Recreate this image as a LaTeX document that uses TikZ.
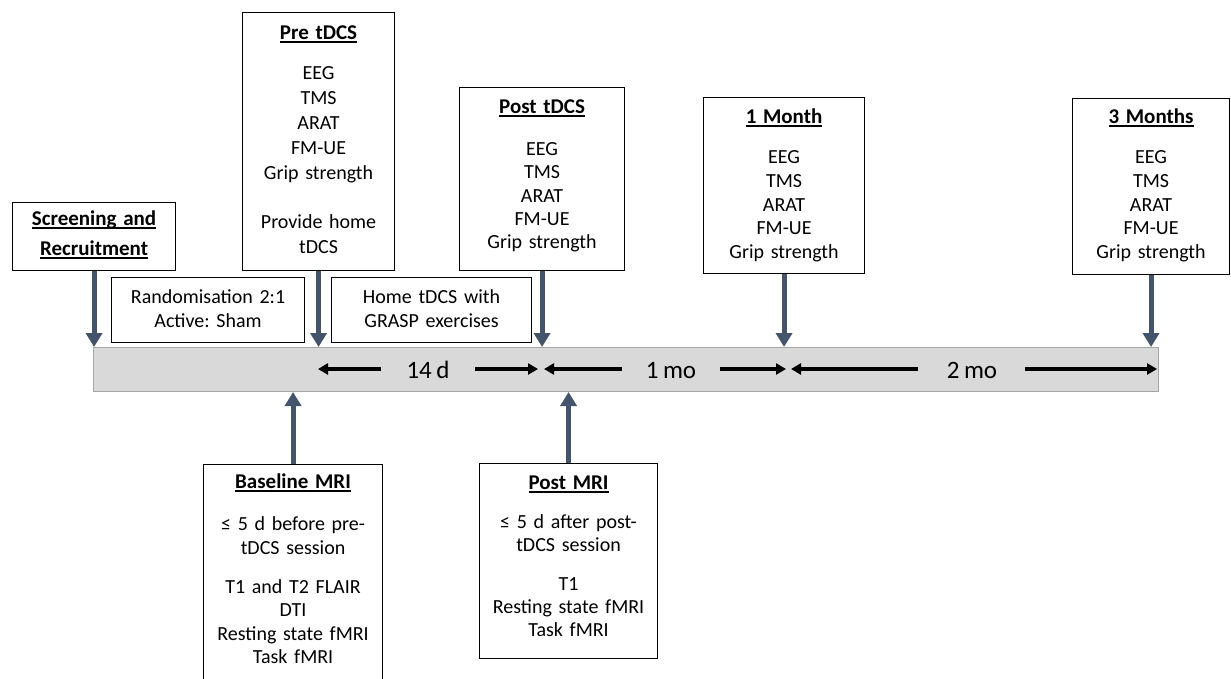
\documentclass[tikz,border=0pt]{standalone}
\usepackage{fontspec}
\setmainfont{Carlito}[WordSpace=0.8]
\frenchspacing
\usetikzlibrary{arrows.meta}
\definecolor{navy}{HTML}{44546A}
\definecolor{barfill}{HTML}{D9D9D9}
\definecolor{barline}{HTML}{A6A6A6}
\newcommand\myul[1]{\leavevmode\setbox0\hbox{\fontsize{21}{25}\selectfont\bfseries #1}\rlap{\rule[-3pt]{\wd0}{1.2pt}}\box0}
\begin{document}
\begin{tikzpicture}[x=1pt,y=-1pt,
  mybox/.style={draw, line width=1.1pt, inner sep=0pt, align=center, anchor=north west},
  tl/.style={navy, line width=5pt, -{Triangle[width=16pt,length=14pt]}},
  dur/.style={black, line width=3.5pt, -{Triangle[width=11pt,length=10pt]}},
  lbl/.style={anchor=base, inner sep=0pt, font=\fontsize{25}{29}\selectfont}]
\clip (0,0) rectangle (1231,679);
\fill[white] (0,0) rectangle (1231,679);

% timeline bar
\node[draw=barline, fill=barfill, line width=1pt, minimum width=1065pt, minimum height=44pt, inner sep=0pt, anchor=north west] (bar) at (93,347) {};

% top boxes
\node[mybox, text width=163pt, text height=23pt, text depth=45pt, font=\fontsize{20}{30}\selectfont] (scr) at (12,202)
  {\myul{Screening and}\\\myul{Recruitment}};
\node[mybox, text width=193pt, text height=26pt, text depth=39pt, font=\fontsize{20}{24}\selectfont] (rand) at (111,277)
  {Randomisation 2:1\\Active: Sham};
\node[mybox, text width=152pt, text height=27pt, text depth=231pt, font=\fontsize{20}{25}\selectfont] (pre) at (242,12)
  {\myul{Pre tDCS}\\[15pt]EEG\\TMS\\ARAT\\FM-UE\\Grip strength\\[24pt]Provide home\\tDCS};
\node[mybox, text width=200pt, text height=26pt, text depth=39pt, font=\fontsize{20}{24}\selectfont] (home) at (331,277)
  {Home tDCS with\\GRASP exercises};
\node[mybox, text width=165pt, text height=26pt, text depth=157pt, font=\fontsize{20}{23.3}\selectfont] (post) at (459,87)
  {\myul{Post tDCS}\\[18.7pt]EEG\\TMS\\ARAT\\FM-UE\\Grip strength};
\node[mybox, text width=161pt, text height=26pt, text depth=150pt, font=\fontsize{20}{23.75}\selectfont] (m1) at (703,97)
  {\myul{1 Month}\\[16.25pt]EEG\\TMS\\ARAT\\FM-UE\\Grip strength};
\node[mybox, text width=157pt, text height=25pt, text depth=151pt, font=\fontsize{20}{23.75}\selectfont] (m3) at (1072,98)
  {\myul{3 Months}\\[16.25pt]EEG\\TMS\\ARAT\\FM-UE\\Grip strength};

% bottom boxes
\node[mybox, text width=179pt, text height=24pt, text depth=212pt, font=\fontsize{20}{23.5}\selectfont] (bmri) at (203,464)
  {\myul{Baseline MRI}\\[18.5pt]≤ 5 d before pre-\\tDCS session\\[15.5pt]T1 and T2 FLAIR\\DTI\\Resting state fMRI\\Task fMRI};
\node[mybox, text width=178pt, text height=26pt, text depth=169pt, font=\fontsize{20}{23}\selectfont] (pmri) at (479,463)
  {\myul{Post MRI}\\[16pt]≤ 5 d after post-\\tDCS session\\[16pt]T1\\Resting state fMRI\\Task fMRI};

% event arrows
\draw[tl] (scr.south) -- (scr.south |- bar.north);
\draw[tl] (pre.south) -- (pre.south |- bar.north);
\draw[tl] (post.south) -- (post.south |- bar.north);
\draw[tl] (m1.south) -- (m1.south |- bar.north);
\draw[tl] (m3.south) -- (m3.south |- bar.north);
\draw[tl] (bmri.north) -- (bmri.north |- bar.south);
\draw[tl] (pmri.north) -- (pmri.north |- bar.south);

% durations
\coordinate (d1a) at (318,369); \coordinate (d1b) at (381,369);
\coordinate (d2a) at (475,369); \coordinate (d2b) at (538,369);
\coordinate (d3a) at (544,369); \coordinate (d3b) at (622,369);
\coordinate (d4a) at (720,369); \coordinate (d4b) at (786,369);
\coordinate (d5a) at (791,369); \coordinate (d5b) at (918,369);
\coordinate (d6a) at (1025,369); \coordinate (d6b) at (1157,369);
\draw[dur] (d1b) -- (d1a);
\draw[dur] (d2a) -- (d2b);
\draw[dur] (d3b) -- (d3a);
\draw[dur] (d4a) -- (d4b);
\draw[dur] (d5b) -- (d5a);
\draw[dur] (d6a) -- (d6b);
\node[lbl] (l1) at (428,378) {14 d};
\node[lbl] (l2) at (671,378) {1 mo};
\node[lbl] (l3) at (972,378) {2 mo};
\end{tikzpicture}
\end{document}
